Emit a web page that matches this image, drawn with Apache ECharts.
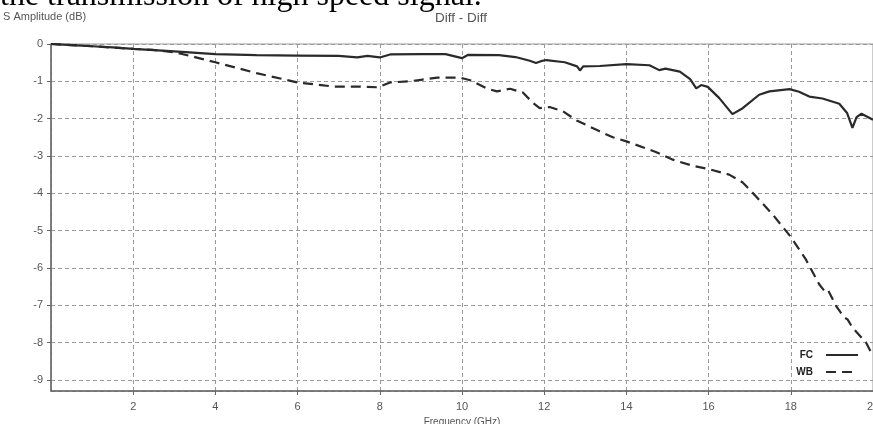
<!DOCTYPE html>
<html lang="en">

<head>
    <meta charset="UTF-8">
    <title>Diff - Diff</title>
    <style>
        html,
        body {
            margin: 0;
            padding: 0;
            background: #fff;
        }
    </style>
</head>

<body>
    <div id="show" style="width: 873px; height: 424px;"></div>

    <script src="https://cdn.jsdelivr.net/npm/echarts@6/dist/echarts.min.js"></script>
    <script>
        // frequency (GHz) / amplitude (dB)
        var fcFreq = [0, 0.5, 1, 1.5, 2, 3, 4, 5, 6, 7, 7.45, 7.7, 8, 8.25, 9, 9.6, 10, 10.15, 10.9, 11.3, 11.65, 11.8, 11.92, 12.05, 12.5, 12.8, 12.87, 12.95, 13.35, 14, 14.56, 14.8, 14.95, 15.3, 15.55, 15.7, 15.82, 15.98, 16.26, 16.58, 16.83, 17.23, 17.48, 17.97, 18.2, 18.45, 18.77, 19.18, 19.37, 19.5, 19.6, 19.72, 20];
        var fcAmp = [0, -0.03, -0.06, -0.09, -0.13, -0.2, -0.27, -0.3, -0.31, -0.32, -0.36, -0.32, -0.36, -0.28, -0.27, -0.27, -0.38, -0.29, -0.3, -0.35, -0.45, -0.51, -0.46, -0.43, -0.49, -0.6, -0.71, -0.6, -0.59, -0.54, -0.57, -0.7, -0.66, -0.74, -0.94, -1.19, -1.1, -1.15, -1.45, -1.88, -1.72, -1.36, -1.27, -1.21, -1.28, -1.41, -1.46, -1.6, -1.85, -2.25, -1.96, -1.87, -2.03];

        var wbFreq = [0, 1, 2, 2.5, 3, 3.5, 4, 5, 6, 6.87, 7.5, 7.96, 8.25, 8.73, 9, 9.4, 9.95, 10.2, 10.6, 10.85, 11.17, 11.48, 11.72, 11.89, 12.13, 12.45, 12.79, 13.35, 13.67, 14, 14.73, 15.13, 15.6, 16, 16.5, 16.83, 17.15, 17.56, 18, 18.37, 18.69, 18.82, 18.9, 19.1, 19.3, 19.38, 19.5, 19.83, 20];
        var wbAmp = [0, -0.06, -0.13, -0.16, -0.22, -0.35, -0.49, -0.78, -1.03, -1.14, -1.14, -1.16, -1.03, -1, -0.96, -0.9, -0.9, -0.97, -1.19, -1.27, -1.2, -1.3, -1.57, -1.72, -1.69, -1.8, -2.05, -2.34, -2.5, -2.61, -2.9, -3.1, -3.26, -3.35, -3.5, -3.71, -4.08, -4.57, -5.17, -5.78, -6.44, -6.62, -6.58, -7.02, -7.33, -7.38, -7.6, -8, -8.36];

        var seriesNames = ['FC', 'WB'];

        function pairs(xs, ys) {
            return xs.map(function (x, i) { return [x, ys[i]]; });
        }

        var gridLine = { show: true, lineStyle: { color: '#9a9a9a', type: [4, 3], width: 1 } };
        var axisFont = { color: '#555', fontSize: 11, fontFamily: 'Liberation Sans Narrow, Liberation Sans, sans-serif' };

        var chart = echarts.init(document.getElementById('show'));

        chart.setOption({
            animation: false,
            backgroundColor: '#fff',
            graphic: [
                {
                    type: 'text', left: 0, top: -19,
                    style: { text: 'the transmission of high speed signal.', fontSize: 32, fontFamily: 'Liberation Serif', fill: '#000' }
                },
                {
                    type: 'text', left: 3, top: 11,
                    style: { text: 'S Amplitude (dB)', fontSize: 11, fontFamily: 'Liberation Sans', fill: '#555' }
                },
                {
                    type: 'text', left: 435, top: 11,
                    style: { text: 'Diff - Diff', fontSize: 13.5, fontFamily: 'Liberation Sans', fill: '#555' }
                }
            ],
            legend: {
                data: seriesNames,
                orient: 'vertical',
                right: 9,
                top: 345,
                align: 'right',
                itemWidth: 32,
                itemHeight: 10,
                itemGap: 7,
                itemStyle: { color: 'transparent', borderWidth: 0 },
                textStyle: { fontSize: 10, fontWeight: 'bold', color: '#222', padding: [0, 8, 0, 0] }
            },
            grid: {
                left: 51, right: 0, top: 44, bottom: 33,
                outerBoundsMode: 'none',
                containLabel: false,
                show: true, borderColor: '#999', borderWidth: 1
            },
            xAxis: {
                type: 'value',
                min: 0, max: 20, interval: 2,
                name: 'Frequency (GHz)',
                nameLocation: 'middle',
                nameGap: 19,
                nameTextStyle: { color: '#555', fontSize: 10, fontFamily: 'Liberation Sans' },
                axisLine: { show: true, onZero: false, lineStyle: { color: '#666', width: 1.5 } },
                axisTick: { show: true, length: 4, lineStyle: { color: '#666' } },
                axisLabel: Object.assign({ showMinLabel: false, margin: 10 }, axisFont),
                splitLine: gridLine
            },
            yAxis: {
                type: 'value',
                min: -9.3, max: 0, splitNumber: 9,
                axisLine: { show: true, lineStyle: { color: '#666', width: 1.5 } },
                axisTick: { show: true, length: 4, lineStyle: { color: '#666' } },
                axisLabel: Object.assign({ showMinLabel: false, margin: 8 }, axisFont),
                splitLine: gridLine
            },
            series: [
                {
                    name: seriesNames[0],
                    type: 'line',
                    data: pairs(fcFreq, fcAmp),
                    symbol: 'none',
                    lineStyle: { color: '#2a2a2a', width: 2.2 },
                    itemStyle: { color: '#2a2a2a' }
                },
                {
                    name: seriesNames[1],
                    type: 'line',
                    data: pairs(wbFreq, wbAmp),
                    symbol: 'none',
                    lineStyle: { color: '#2a2a2a', width: 2.2, type: [10, 6] },
                    itemStyle: { color: '#2a2a2a' }
                }
            ]
        });
    </script>
</body>

</html>
